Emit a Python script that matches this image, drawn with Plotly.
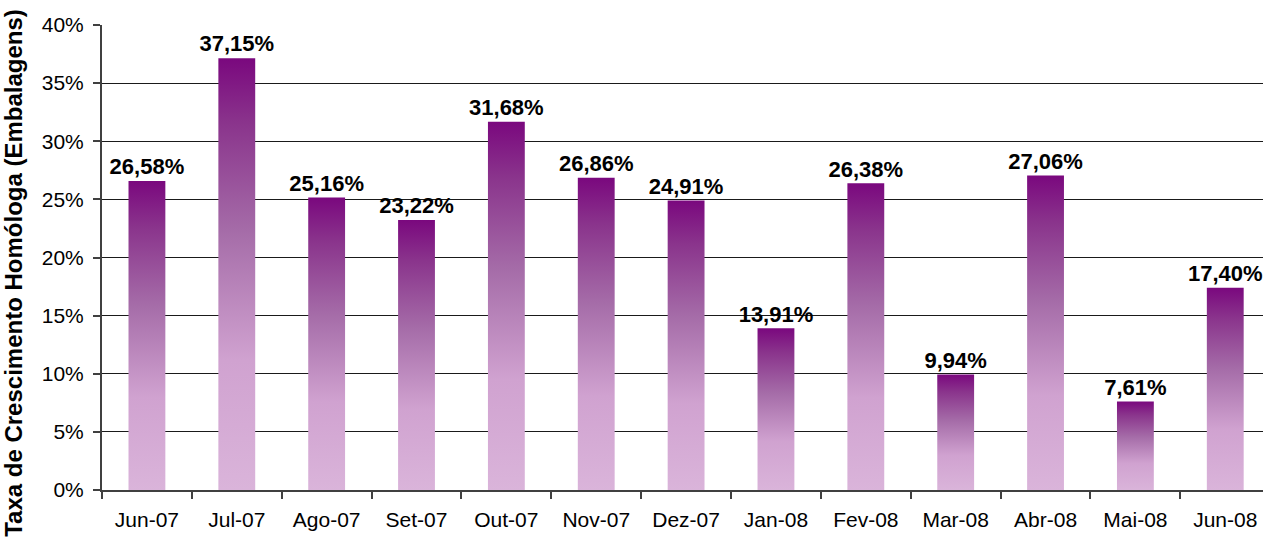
import plotly.graph_objects as go

months = ["Jun-07", "Jul-07", "Ago-07", "Set-07", "Out-07", "Nov-07", "Dez-07",
          "Jan-08", "Fev-08", "Mar-08", "Abr-08", "Mai-08", "Jun-08"]
growth_pct = [26.58, 37.15, 25.16, 23.22, 31.68, 26.86, 24.91,
              13.91, 26.38, 9.94, 27.06, 7.61, 17.40]
y_ticks = [0, 5, 10, 15, 20, 25, 30, 35, 40]
y_title = "Taxa de Crescimento Homóloga (Embalagens)"

BAR_W = 0.41
grad = [[0.0, "rgb(218,180,218)"], [0.3, "rgb(208,162,208)"],
        [0.6, "rgb(165,108,168)"], [0.85, "rgb(138,52,140)"],
        [1.0, "rgb(122,8,126)"]]

fig = go.Figure()
for i, v in enumerate(growth_pct):
    val = v / 100.0
    fig.add_trace(go.Scatter(
        x=[i - BAR_W / 2, i + BAR_W / 2, i + BAR_W / 2, i - BAR_W / 2, i - BAR_W / 2],
        y=[0, 0, val, val, 0],
        mode="lines", fill="toself",
        fillgradient=dict(type="vertical", colorscale=grad),
        line=dict(width=0), hoverinfo="skip", showlegend=False,
    ))

fig.add_trace(go.Scatter(
    x=list(range(len(months))), y=[v / 100.0 + 0.001 for v in growth_pct],
    mode="text",
    text=[f"{v:.2f}".replace(".", ",") + "%" for v in growth_pct],
    textposition="top center",
    textfont=dict(family="Liberation Sans, Arial", size=22, color="black", weight="bold"),
    showlegend=False, hoverinfo="skip", cliponaxis=False,
))

fig.update_layout(
    width=1263, height=540,
    margin=dict(l=102, r=0, t=25, b=50),
    paper_bgcolor="white", plot_bgcolor="white",
    font=dict(family="Liberation Sans, Arial", size=21, color="black"),
    xaxis=dict(
        range=[-0.5, 12.42], tickmode="array",
        tickvals=list(range(len(months))), ticktext=months,
        ticks="", showgrid=False, zeroline=False,
        showline=True, linecolor="#404040", linewidth=2,
        ticklabelstandoff=10,
        minor=dict(tickmode="array", tickvals=[i - 0.5 for i in range(len(months) + 1)],
                   ticks="outside", ticklen=7, tickcolor="#404040", tickwidth=2,
                   showgrid=False),
    ),
    yaxis=dict(
        range=[0, 0.40], tickmode="array",
        tickvals=[t / 100 for t in y_ticks], ticktext=[f"{t}%" for t in y_ticks],
        ticks="outside", ticklen=7, tickcolor="#404040", tickwidth=2,
        ticklabelstandoff=5,
        showgrid=True, gridcolor="#1a1a1a", gridwidth=1,
        zeroline=False, showline=True, linecolor="#404040", linewidth=2,
    ),
    annotations=[dict(
        text=y_title, textangle=-90, showarrow=False,
        xref="paper", yref="paper", x=-0.0758, y=0.467,
        xanchor="center", yanchor="middle",
        font=dict(family="Liberation Sans, Arial", size=24, color="black", weight="bold"),
    )],
)

fig.write_html("out.html", config={"displayModeBar": False},
               post_script="document.body.style.margin='0';")
